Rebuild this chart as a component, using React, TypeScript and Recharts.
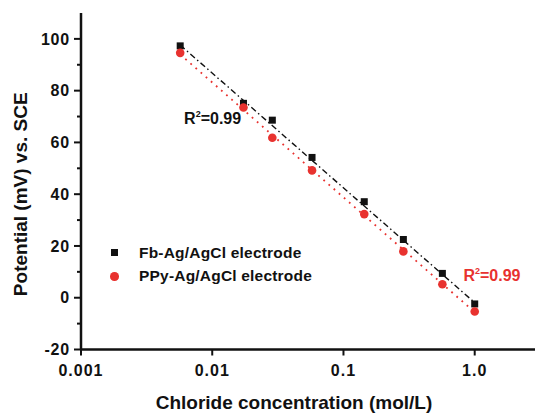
import React from "react";
import {
  ScatterChart,
  Scatter,
  XAxis,
  YAxis,
  Legend,
  Label,
  ReferenceDot,
} from "recharts";

// Chloride concentration (mol/L) for each measurement
const concentrations = [0.0057, 0.0173, 0.0287, 0.0576, 0.144, 0.286, 0.567, 1.0];
// Potential (mV) vs. SCE
const fbPotential = [97.3, 75.1, 68.6, 54.2, 37.1, 22.5, 9.4, -2.4];
const ppyPotential = [94.6, 73.5, 61.8, 49.2, 32.3, 17.9, 5.2, -5.3];

// linear fit end points
const fitX = [0.0057, 1.0];
const fbFit = [97.6, -1.9];
const ppyFit = [94.0, -5.6];

const xTicks = [0.001, 0.01, 0.1, 1];
const yTicks = [-20, -10, 0, 10, 20, 30, 40, 50, 60, 70, 80, 90, 100];

const fbName = "Fb-Ag/AgCl electrode";
const ppyName = "PPy-Ag/AgCl electrode";
const r2Label = "0.99";

const RED = "#e8322f";
const INK = "#111";
const FONT = "'Liberation Sans', Arial, sans-serif";

const fbData = concentrations.map((x, i) => ({ x, y: fbPotential[i] }));
const ppyData = concentrations.map((x, i) => ({ x, y: ppyPotential[i] }));
const fbFitData = fitX.map((x, i) => ({ x, y: fbFit[i] }));
const ppyFitData = fitX.map((x, i) => ({ x, y: ppyFit[i] }));

const SquareDot = (p: any) => (
  <rect x={p.cx - 3.5} y={p.cy - 3.5} width={7} height={7} fill={INK} />
);
const RoundDot = (p: any) => <circle cx={p.cx} cy={p.cy} r={4.3} fill={RED} />;
const NoDot = () => <g />;

const YTick = (props: any) => {
  const { x, y, payload } = props;
  const axisX = x + 11;
  const major = payload.value % 20 === 0;
  return (
    <g>
      <line x1={axisX - (major ? 7 : 4)} x2={axisX} y1={y} y2={y} stroke={INK} strokeWidth={2} />
      {major && (
        <text
          x={x}
          y={y}
          dy="0.355em"
          textAnchor="end"
          fontFamily={FONT}
          fontWeight="bold"
          fontSize={16}
          letterSpacing={0.8}
          fill={INK}
        >
          {payload.value}
        </text>
      )}
    </g>
  );
};

const R2Text = (color: string) => (p: any) => (
  <text x={p.cx} y={p.cy} fontFamily={FONT} fontWeight="bold" fontSize={16} fill={color}>
    R
    <tspan dy={-7} fontSize={9}>2</tspan>
    <tspan dy={7}>={r2Label}</tspan>
  </text>
);

const LegendBox = (props: any) => (
  <div style={{ fontFamily: FONT, fontWeight: "bold", fontSize: 15.5, letterSpacing: "0.2px", color: INK }}>
    {props.payload
      .filter((entry: any) => entry.type !== "none")
      .map((entry: any) => (
        <div key={entry.value} style={{ display: "flex", alignItems: "center", height: 23.5 }}>
          <span style={{ width: 33, marginRight: 8, display: "flex", justifyContent: "center" }}>
            {entry.type === "square" ? (
              <span style={{ width: 7, height: 7, background: INK, display: "block" }} />
            ) : (
              <span style={{ width: 8.6, height: 8.6, borderRadius: "50%", background: RED, display: "block" }} />
            )}
          </span>
          <span style={{ whiteSpace: "nowrap" }}>{entry.value}</span>
        </div>
      ))}
  </div>
);

const XTitle = (p: any) => {
  const vb = p.viewBox;
  return (
    <text
      x={vb.x + vb.width / 2 - 14}
      y={vb.y + vb.height - 4.5}
      textAnchor="middle"
      fontFamily={FONT}
      fontWeight="bold"
      fontSize={19}
      fill={INK}
    >
      Chloride concentration (mol/L)
    </text>
  );
};

const YTitle = (p: any) => {
  const vb = p.viewBox;
  const cx = vb.x + 20;
  const cy = vb.y + vb.height / 2 + 13;
  return (
    <text
      transform={`translate(${cx}, ${cy}) rotate(-90)`}
      textAnchor="middle"
      dominantBaseline="central"
      fontFamily={FONT}
      fontWeight="bold"
      fontSize={19}
      fill={INK}
    >
      Potential (mV) vs. SCE
    </text>
  );
};

export default function App() {
  return (
    <div style={{ width: 535, height: 413, background: "#fff" }}>
      <style>{`body{margin:0}`}</style>
      <ScatterChart width={535} height={413} margin={{ top: 13, right: 0, bottom: 0, left: 0 }}>
        <XAxis
          dataKey="x"
          type="number"
          scale="log"
          domain={[0.001, 2.88]}
          allowDataOverflow
          ticks={xTicks}
          tickFormatter={(v: number) => (v === 1 ? "1.0" : String(v))}
          height={63.5}
          axisLine={{ stroke: INK, strokeWidth: 2.5 }}
          tickLine={{ stroke: INK, strokeWidth: 2 }}
          tickSize={6}
          tickMargin={9}
          tick={{ fill: INK, fontSize: 16, fontWeight: "bold", fontFamily: FONT, letterSpacing: 1 }}
        >
          <Label content={XTitle} />
        </XAxis>
        <XAxis
          xAxisId="top"
          orientation="top"
          type="number"
          domain={[0, 1]}
          height={0}
          tick={false}
          tickLine={false}
          axisLine={{ stroke: "#222", strokeWidth: 2 }}
        />
        <YAxis
          dataKey="y"
          type="number"
          domain={[-20, 110]}
          allowDataOverflow
          ticks={yTicks}
          interval={0}
          width={81}
          axisLine={{ stroke: INK, strokeWidth: 2.5 }}
          tickLine={false}
          tickSize={0}
          tickMargin={11}
          tick={<YTick />}
        >
          <Label content={YTitle} />
        </YAxis>
        <Scatter
          data={fbFitData}
          line={{ stroke: INK, strokeWidth: 1.4, strokeDasharray: "6 3 1.5 3" }}
          shape={NoDot}
          legendType="none"
          isAnimationActive={false}
        />
        <Scatter
          data={ppyFitData}
          line={{ stroke: RED, strokeWidth: 1.8, strokeDasharray: "1.8 5" }}
          shape={NoDot}
          legendType="none"
          isAnimationActive={false}
        />
        <Scatter name={fbName} data={fbData} shape={SquareDot} fill={INK} legendType="square" isAnimationActive={false} />
        <Scatter name={ppyName} data={ppyData} shape={RoundDot} fill={RED} legendType="circle" isAnimationActive={false} />
        <ReferenceDot x={0.0061} y={67.1} r={0} shape={R2Text(INK)} />
        <ReferenceDot x={0.82} y={6.5} r={0} shape={R2Text(RED)} />
        <Legend
          layout="vertical"
          align="center"
          verticalAlign="middle"
          content={LegendBox}
          wrapperStyle={{ left: 98, top: 241, width: "auto", height: "auto" }}
        />
      </ScatterChart>
    </div>
  );
}
